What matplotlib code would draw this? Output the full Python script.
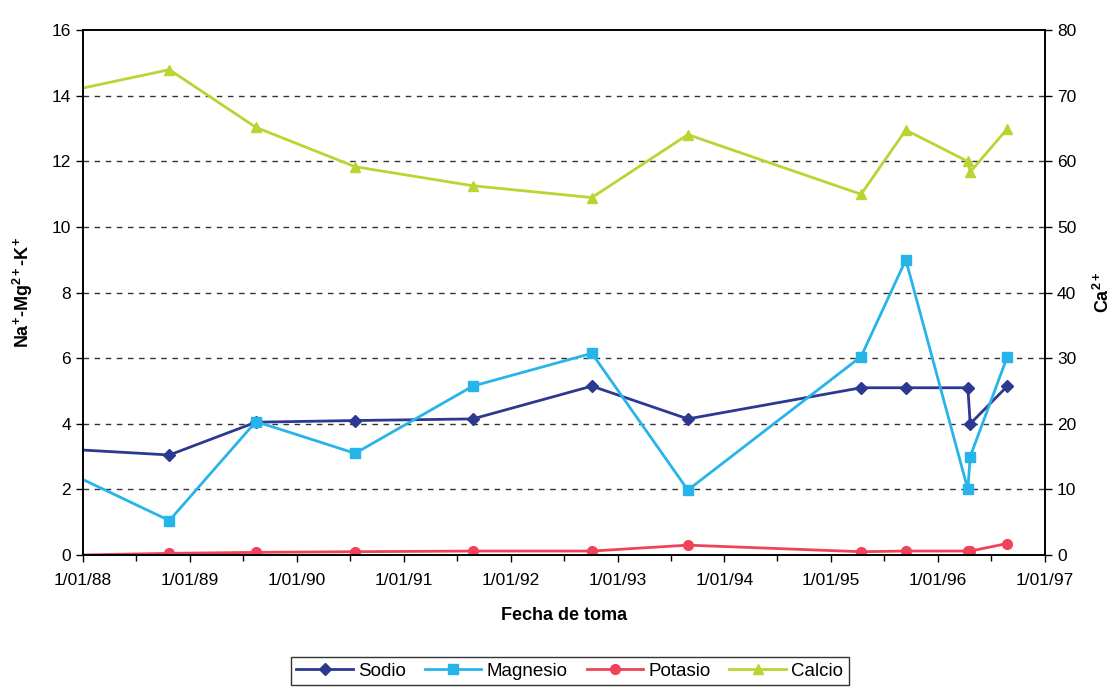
import numpy as np
import pandas as pd
import matplotlib
matplotlib.use("Agg")
import matplotlib.pyplot as plt
import matplotlib.dates as mdates
from matplotlib.ticker import FuncFormatter, MultipleLocator

plt.rcParams['font.family'] = ['Liberation Sans', 'DejaVu Sans']
plt.rcParams['mathtext.fontset'] = 'custom'
plt.rcParams['mathtext.rm'] = 'Liberation Sans:bold'
plt.rcParams['mathtext.bf'] = 'Liberation Sans:bold'
plt.rcParams['mathtext.default'] = 'bf'

# sampling dates
fechas = pd.to_datetime(['1988-01-01', '1988-10-22', '1989-08-14', '1990-07-19',
                         '1991-08-25', '1992-10-05', '1993-08-29', '1995-04-13',
                         '1995-09-13', '1996-04-12', '1996-04-20', '1996-08-25'])

# left axis series
sodio    = [3.2, 3.05, 4.05, 4.1, 4.15, 5.15, 4.15, 5.1, 5.1, 5.1, 4.0, 5.15]
magnesio = [2.3, 1.05, 4.07, 3.1, 5.15, 6.15, 1.98, 6.05, 9.0, 2.0, 3.0, 6.05]
potasio  = [0.0, 0.05, 0.08, 0.1, 0.12, 0.12, 0.3, 0.1, 0.12, 0.12, 0.12, 0.35]
# right axis series
calcio   = [71.2, 74.0, 65.2, 59.2, 56.3, 54.5, 64.1, 55.0, 64.8, 60.0, 58.4, 65.0]

fig = plt.figure(figsize=(11.13, 6.89), dpi=100)
ax1 = fig.add_axes([0.0746, 0.1945, 0.8644, 0.7615])
ax2 = ax1.twinx()

lw = 2.0
ev = slice(1, None)   # first sample sits on the axis edge, no marker drawn
l1, = ax1.plot(fechas, sodio, color='#2B3990', lw=lw, marker='D', ms=6, markevery=ev, label='Sodio')
l2, = ax1.plot(fechas, magnesio, color='#27B4E8', lw=lw, marker='s', ms=6.5, markevery=ev, label='Magnesio')
l3, = ax1.plot(fechas, potasio, color='#F0435A', lw=lw, marker='o', ms=7, markevery=ev, label='Potasio')
l4, = ax2.plot(fechas, calcio, color='#BAD531', lw=lw, marker='^', ms=7.5, markevery=ev, label='Calcio')

ax1.set_xlim(pd.Timestamp('1988-01-01'), pd.Timestamp('1997-01-01'))
ax1.set_ylim(0, 16)
ax2.set_ylim(0, 80)
ax1.yaxis.set_major_locator(MultipleLocator(2))
ax2.yaxis.set_major_locator(MultipleLocator(10))

ax1.xaxis.set_major_locator(mdates.YearLocator())
ax1.xaxis.set_minor_locator(mdates.MonthLocator(bymonth=7))
ax1.xaxis.set_major_formatter(FuncFormatter(
    lambda v, p: '%d/%02d/%s' % (mdates.num2date(v).day, mdates.num2date(v).month,
                                 mdates.num2date(v).strftime('%y'))))

for y in range(2, 16, 2):
    ax1.axhline(y, color='#333333', lw=1.0, ls=(0, (4, 4)), zorder=0)

for ax in (ax1, ax2):
    for s in ax.spines.values():
        s.set_linewidth(1.2)
ax1.tick_params(axis='both', which='major', labelsize=12.5, length=5, width=1)
ax1.tick_params(axis='x', which='minor', length=4, width=1)
ax1.tick_params(axis='x', pad=8)
ax2.tick_params(axis='y', labelsize=12.5, length=5, width=1)

ax1.set_xlabel('Fecha de toma', fontsize=13, fontweight='bold', labelpad=14)
ax1.set_ylabel(r'Na$^{+}$-Mg$^{2+}$-K$^{+}$', fontsize=13, fontweight='bold', labelpad=12)
ax2.set_ylabel(r'Ca$^{2+}$', fontsize=13, fontweight='bold', labelpad=12)

fig.legend(handles=[l1, l2, l3, l4], loc='center', bbox_to_anchor=(0.512, 0.026),
           ncol=4, fontsize=13.5, frameon=True, fancybox=False, edgecolor='black',
           handlelength=3.0, handletextpad=0.3, columnspacing=1.0, borderpad=0.3)

fig.savefig('out.png', dpi=100)
